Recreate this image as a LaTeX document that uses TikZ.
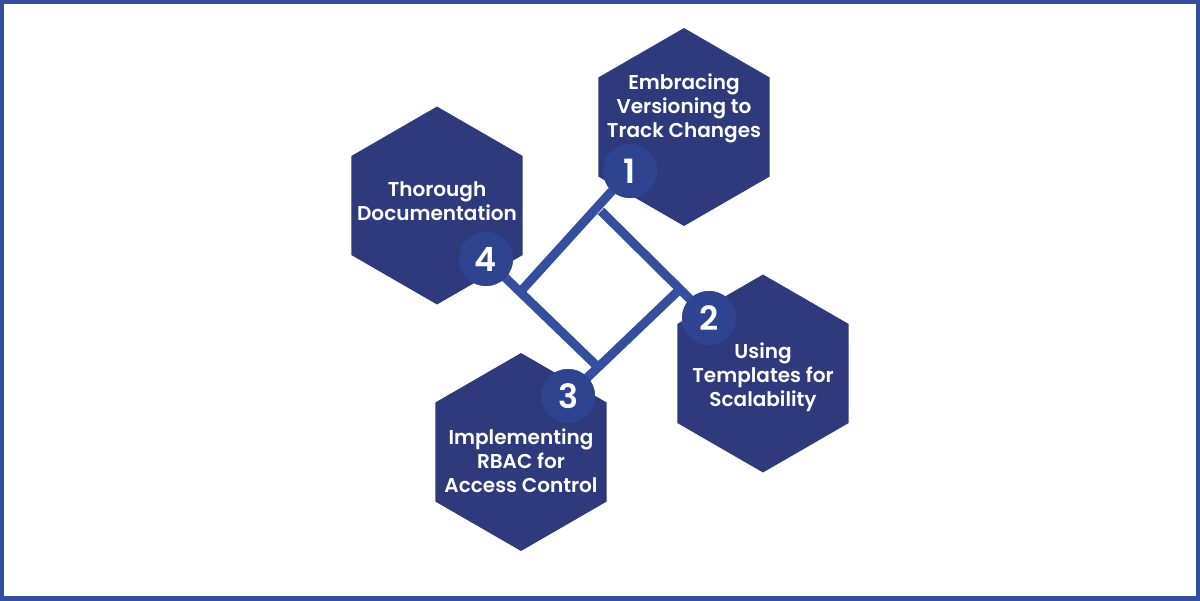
\documentclass[tikz,border=0pt]{standalone}
\usepackage{fontspec}
\setmainfont{Poppins}[BoldFont={Poppins SemiBold}]
\usetikzlibrary{shapes.geometric}
\usetikzlibrary{positioning}
\definecolor{hexblue}{HTML}{2E3A7B}
\definecolor{numblue}{HTML}{2F4490}
\definecolor{linkblue}{HTML}{354F9F}
\begin{document}
\begin{tikzpicture}[x=0.02cm,y=-0.02cm,
  hexa/.style={regular polygon,regular polygon sides=6,shape border rotate=30,minimum size=3.96cm,inner sep=0pt,fill=hexblue},
  num/.style={circle,minimum size=1.08cm,inner sep=0pt,fill=numblue,text=white,font=\fontsize{19pt}{19pt}\selectfont\bfseries},
  txt/.style={text=white,align=center,font=\fontsize{11.4pt}{13.6pt}\selectfont\bfseries},
  link/.style={draw=linkblue,line width=0.18cm}]
\useasboundingbox (0,0) rectangle (1200,600);
\draw[draw=linkblue,line width=0.16cm] (0,0) rectangle (1200,600);
% hexagons
\node[hexa] (versioning) at (684,127) {};
\node[hexa] (templates) at (763,373.5) {};
\node[hexa] (rbac) at (521,452) {};
\node[hexa] (docs) at (437,205.5) {};
% square in the middle
\coordinate (endA) at (522,290);
\coordinate (endB) at (601,211);
\coordinate (endC) at (600,369);
\coordinate (endD) at (679,290);
\node[num] (one) at (630,171) {};
\node[num] (two) at (709,318) {};
\node[num] (three) at (568,396) {};
\node[num] (four) at (486,259) {};
\draw[link] (one.center) -- (endA);
\draw[link] (two.center) -- (endB);
\draw[link] (three.center) -- (endD);
\draw[link] (four.center) -- (endC);
\node[num] at (one) {1};
\node[num] at (two) {2};
\node[num] at (three) {3};
\node[num] at (four) {4};
% texts
\node[txt] (t1) at (684,108.5) {Embracing\\Versioning to\\Track Changes};
\node[txt] (t2) at (763,377.5) {Using\\Templates for\\Scalability};
\node[txt] (t3) at (521,460.5) {Implementing\\RBAC for\\Access Control};
\node[txt] (t4) at (437,201.5) {Thorough\\Documentation};
\end{tikzpicture}
\end{document}
